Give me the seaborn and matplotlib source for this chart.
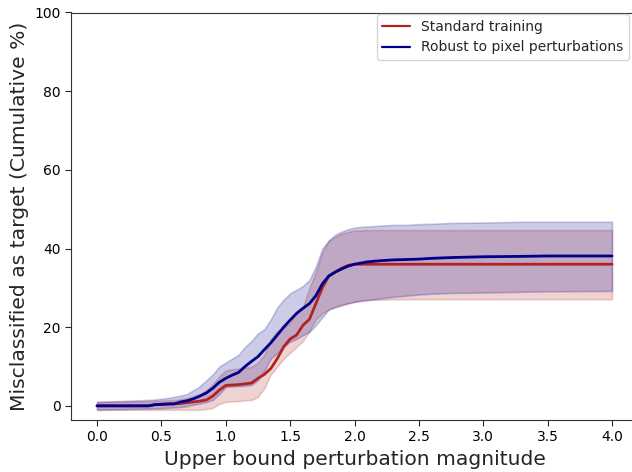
import numpy as np
import pandas as pd
import matplotlib
matplotlib.use("Agg")
import matplotlib.pyplot as plt
import seaborn as sns

# Perturbation magnitude grid (upper bound)
magnitude = [0.0, 0.4, 0.45, 0.5, 0.55, 0.6, 0.65, 0.7, 0.75, 0.8, 0.85, 0.9, 0.95,
             1.0, 1.05, 1.1, 1.15, 1.2, 1.25, 1.3, 1.35, 1.4, 1.45, 1.5, 1.55, 1.6,
             1.65, 1.7, 1.75, 1.8, 1.85, 1.9, 1.95, 2.0, 2.05, 2.1, 2.2, 2.3, 2.4,
             2.5, 2.6, 2.75, 3.0, 3.3, 3.5, 4.0]

# Standard training: cumulative % misclassified as target, with band
std_mean = [0.0, 0.0, 0.3, 0.3, 0.4, 0.5, 0.6, 0.8, 1.0, 1.2, 1.5, 2.5, 4.0,
            5.2, 5.3, 5.4, 5.6, 5.8, 7.0, 8.0, 9.5, 12.0, 15.0, 17.0, 18.0, 20.5,
            22.0, 26.0, 30.0, 33.0, 34.0, 35.0, 35.7, 36.0, 36.0, 36.0, 36.0, 36.0, 36.0,
            36.0, 36.0, 36.0, 36.0, 36.0, 36.0, 36.0]
std_low = [-1.0, -1.0, -1.0, -1.0, -1.0, -1.0, -1.0, -1.0, -1.0, -1.0, -0.8, -0.5, 0.5,
           1.0, 1.1, 1.2, 1.4, 1.5, 2.3, 4.5, 8.0, 10.0, 12.0, 13.5, 15.0, 16.5,
           19.0, 22.0, 23.5, 24.5, 25.0, 25.5, 26.0, 26.5, 26.7, 26.9, 27.0, 27.1, 27.1,
           27.1, 27.1, 27.1, 27.1, 27.1, 27.1, 27.1]
std_high = [1.0, 1.2, 1.3, 1.3, 1.4, 1.5, 1.7, 2.0, 2.5, 3.0, 4.0, 5.5, 7.5,
            9.0, 9.3, 9.5, 9.7, 9.9, 11.0, 13.0, 17.0, 19.0, 20.0, 21.0, 24.0, 25.2,
            30.0, 34.0, 39.0, 42.0, 43.0, 43.8, 44.2, 44.6, 44.6, 44.7, 44.7, 44.7, 44.7,
            44.7, 44.7, 44.7, 44.7, 44.7, 44.7, 44.7]

# Model robust to pixel perturbations
rob_mean = [0.0, 0.0, 0.3, 0.4, 0.5, 0.5, 1.0, 1.3, 1.8, 2.5, 3.3, 4.5, 6.0,
            7.0, 7.8, 8.5, 10.0, 11.3, 12.5, 14.3, 16.0, 18.0, 20.0, 21.8, 23.5, 24.8,
            26.0, 28.0, 31.0, 33.0, 34.0, 34.8, 35.5, 36.0, 36.3, 36.6, 36.9, 37.1, 37.2,
            37.3, 37.5, 37.7, 37.9, 38.0, 38.1, 38.1]
rob_low = [-1.0, -0.7, -0.7, -0.6, -0.5, -0.4, -0.3, -0.1, 0.3, 0.6, 1.0, 1.5, 3.0,
           4.8, 4.9, 5.0, 5.1, 5.3, 6.5, 9.0, 12.0, 13.5, 15.0, 16.3, 17.0, 18.0,
           18.8, 20.5, 22.5, 24.5, 25.2, 25.7, 26.1, 26.4, 26.7, 26.9, 27.3, 27.7, 28.0,
           28.3, 28.5, 28.7, 28.8, 29.0, 29.1, 29.2]
rob_high = [1.0, 1.5, 1.6, 1.8, 2.0, 2.3, 2.6, 3.0, 4.0, 5.0, 6.5, 8.0, 10.0,
            11.0, 12.0, 13.0, 15.0, 16.5, 18.4, 19.5, 22.0, 25.0, 27.0, 28.6, 29.5, 30.5,
            32.0, 35.4, 40.0, 42.0, 43.5, 44.3, 44.9, 45.3, 45.5, 45.6, 45.8, 46.0, 46.0,
            46.2, 46.3, 46.5, 46.6, 46.8, 46.8, 46.8]

series_names = ["Standard training", "Robust to pixel perturbations"]
line_colors = ["#b22222", "#00008b"]

sns.set_style("ticks", {"axes.edgecolor": "0.2", "xtick.color": "0.2", "ytick.color": "0.2"})
plt.rcParams["font.family"] = ["DejaVu Sans"]

df = pd.concat([
    pd.DataFrame({"magnitude": magnitude, "pct": std_mean, "lo": std_low, "hi": std_high,
                  "model": series_names[0]}),
    pd.DataFrame({"magnitude": magnitude, "pct": rob_mean, "lo": rob_low, "hi": rob_high,
                  "model": series_names[1]}),
], ignore_index=True)

fig = plt.figure(figsize=(6.32, 4.72), dpi=100)
W, H = 632, 472
ax = fig.add_axes([71.25 / W, 1 - 420 / H, 566.5 / W, 407.5 / H])

for name, color in zip(series_names, line_colors):
    sub = df[df["model"] == name]
    ax.fill_between(sub["magnitude"], sub["lo"], sub["hi"], facecolor=color,
                    edgecolor=color, alpha=0.2, linewidth=1.2)

sns.lineplot(data=df, x="magnitude", y="pct", hue="model", hue_order=series_names,
             palette=line_colors, linewidth=2.0, ax=ax, legend=False,
             estimator=None, sort=True)

ax.set_xlim(-0.2, 4.2)
ax.set_ylim(-3.6, 100)
ax.set_xticks(np.arange(0, 4.01, 0.5))
ax.set_yticks([0, 20, 40, 60, 80, 100])
ax.tick_params(labelsize=10, colors="0.15", length=4)
for lab in ax.get_xticklabels() + ax.get_yticklabels():
    lab.set_color("black")
ax.set_xlabel("Upper bound perturbation magnitude", fontsize=14.6)
ax.set_ylabel("Misclassified as target (Cumulative %)", fontsize=14.6)

handles = [plt.Line2D([], [], color=c, linewidth=1.6) for c in line_colors]
fig.legend(handles, series_names, loc="upper right", fontsize=10,
           bbox_to_anchor=(629 / W, 1 - 14 / H), borderaxespad=0, framealpha=0.8)

fig.savefig("out.png", dpi=100)
